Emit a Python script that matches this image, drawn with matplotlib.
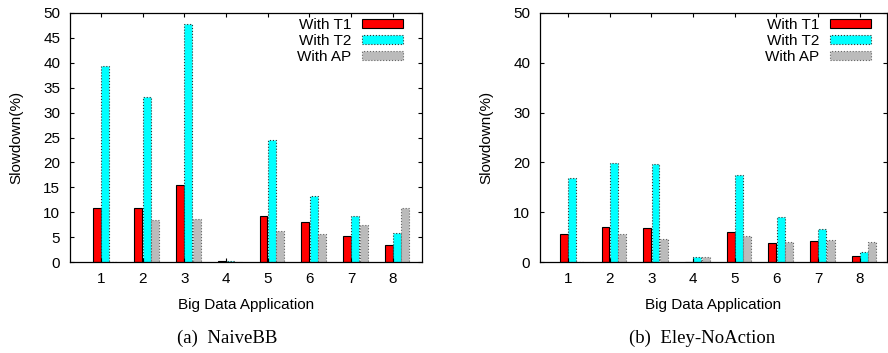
import numpy as np
import matplotlib
matplotlib.use("Agg")
import matplotlib.pyplot as plt

plt.rcParams["font.family"] = ["Liberation Sans", "DejaVu Sans"]

apps = [1, 2, 3, 4, 5, 6, 7, 8]
series_names = ["With T1", "With T2", "With AP"]

# (a) NaiveBB
naive_t1 = [10.8, 10.8, 15.4, 0.2, 9.2, 8.0, 5.2, 3.4]
naive_t2 = [39.3, 33.1, 47.8, 0.2, 24.4, 13.2, 9.2, 5.8]
naive_ap = [0.0, 8.4, 8.6, 0.1, 6.2, 5.6, 7.4, 10.8]

# (b) Eley-NoAction
eley_t1 = [5.6, 7.0, 6.8, 0.1, 6.0, 3.8, 4.2, 1.2]
eley_t2 = [16.9, 19.9, 19.7, 1.0, 17.4, 9.0, 6.6, 2.0]
eley_ap = [0.0, 5.6, 4.7, 1.0, 5.2, 4.0, 4.4, 4.0]

styles = [
    dict(color="#ff0000", edgecolor="black", linestyle="-", linewidth=0.8),
    dict(color="#00ffff", edgecolor="#333333", linestyle=":", linewidth=0.8),
    dict(color="#bbbbbb", edgecolor="#666666", linestyle=":", linewidth=0.8),
]
offsets = [-0.1, 0.1, 0.3]
width = 0.19


def draw_panel(ax, data, xlim, yticks, leg_x):
    x = np.array(apps)
    for vals, name, st, off in zip(data, series_names, styles, offsets):
        ax.bar(x + off, vals, width=width, label=name, **st)
    ax.set_xlim(*xlim)
    ax.set_ylim(0, 50)
    ax.set_xticks(apps)
    ax.set_yticks(yticks)
    ax.tick_params(direction="in", top=True, right=True, length=3,
                   labelsize=11)
    ax.tick_params(axis="x", pad=7)
    ax.tick_params(axis="y", pad=7)
    for s in ax.spines.values():
        s.set_linewidth(0.9)
    ax.set_xlabel("Big Data Application", fontsize=11, labelpad=9)
    ax.set_ylabel("Slowdown(%)", fontsize=11, labelpad=14)
    leg = ax.legend(loc="upper right", bbox_to_anchor=(leg_x, 0.98),
                    frameon=False, markerfirst=False,
                    fontsize=11, handlelength=2.7, handleheight=0.55,
                    handletextpad=0.7, labelspacing=0.12,
                    borderpad=0, borderaxespad=0)
    for t in leg.get_texts():
        t.set_ha("right")


fig = plt.figure(figsize=(8.88, 3.53), dpi=100)
ax1 = fig.add_axes([70 / 888, 1 - 262 / 353, 352 / 888, 249 / 353])
ax2 = fig.add_axes([540 / 888, 1 - 262 / 353, 347 / 888, 249 / 353])

draw_panel(ax1, [naive_t1, naive_t2, naive_ap], (0.26, 8.7),
           range(0, 51, 5), 0.946)
draw_panel(ax2, [eley_t1, eley_t2, eley_ap], (0.33, 8.65),
           range(0, 51, 10), 0.954)

fig.text(227 / 888, 1 - 338 / 353, "(a)  NaiveBB", ha="center", va="center",
         fontsize=13.5, family="Liberation Serif")
fig.text(702 / 888, 1 - 338 / 353, "(b)  Eley-NoAction", ha="center",
         va="center", fontsize=13.5, family="Liberation Serif")

fig.savefig("out.png", dpi=100)
